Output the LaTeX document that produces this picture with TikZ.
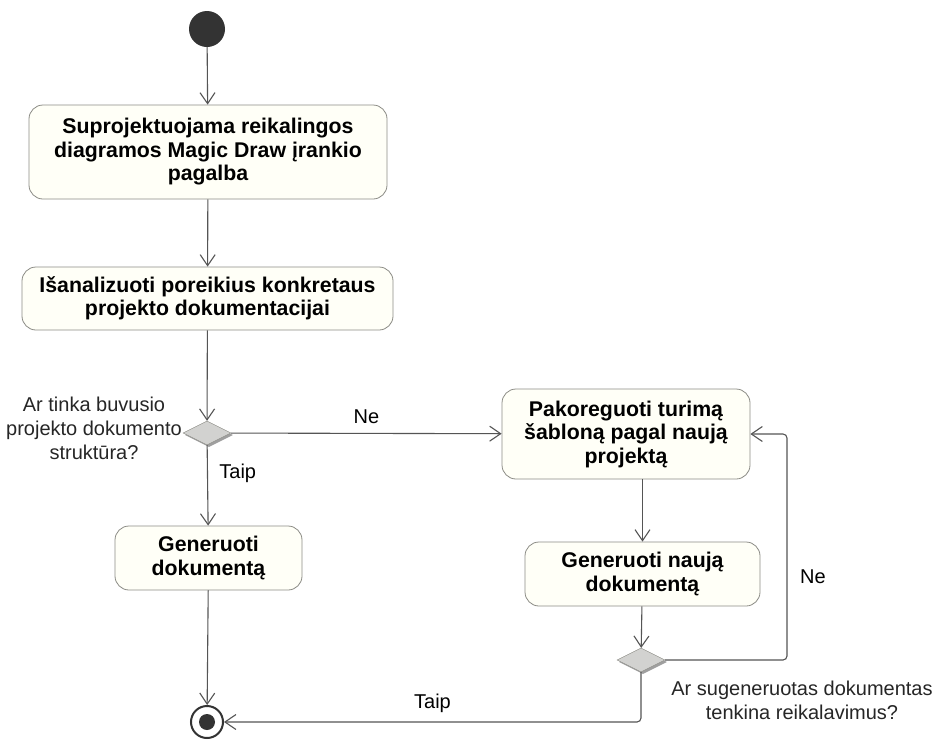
\documentclass[tikz,border=0pt]{standalone}
\usepackage{fontspec}
\setmainfont{Liberation Sans}
\usetikzlibrary{arrows.meta,shapes.geometric,shadows}
\definecolor{linegray}{HTML}{555555}
\definecolor{boxgray}{HTML}{8C8C86}
\definecolor{boxfill}{HTML}{FFFFF7}
\definecolor{decfill}{HTML}{D2D2D0}

\begin{document}
\begin{tikzpicture}[x=1pt,y=-1pt,font=\fontsize{20}{24}\selectfont,
  action/.style={draw=boxgray,fill=boxfill,thick,rounded corners=14pt,align=center,
    font=\fontsize{21.3}{23.5}\selectfont\bfseries,inner sep=0pt},
  decision/.style={diamond,draw=boxgray,fill=decfill,inner sep=0pt,shape aspect=2,
    minimum width=48pt,minimum height=24pt,
    general shadow={fill=gray!75,shadow xshift=2pt,shadow yshift=-2pt}},
  flow/.style={draw=linegray,line width=1.1pt,rounded corners=4pt,
    -{Straight Barb[length=11pt,width=15pt]}},
  note/.style={text=black!85,align=center}]
  \useasboundingbox[fill=white] (0,0) rectangle (935,742);

  % start and end
  \node[circle,fill=black!80,minimum size=36pt,inner sep=0pt] (start) at (207,29) {};
  \node[circle,draw=black!80,line width=2pt,fill=white,minimum size=32pt,inner sep=0pt] (final) at (207,722) {};
  \fill[black!80] (final) circle (8);

  % actions
  \node[action,minimum width=358pt,minimum height=94pt] (design) at (208,152)
    {Suprojektuojama reikalingos\\diagramos Magic Draw įrankio\\pagalba};
  \node[action,minimum width=371pt,minimum height=63pt] (analyse) at (207.5,298.5)
    {Išanalizuoti poreikius konkretaus\\projekto dokumentacijai};
  \node[action,minimum width=187pt,minimum height=64pt] (generate) at (208.5,558)
    {Generuoti\\dokumentą};
  \node[action,minimum width=248pt,minimum height=90pt] (adjust) at (626,434)
    {Pakoreguoti turimą\\šabloną pagal naują\\projektą};
  \node[action,minimum width=235pt,minimum height=64pt] (genNew) at (642.5,574)
    {Generuoti naują\\dokumentą};

  % decisions
  \node[decision] (fits) at (207,433) {};
  \node[decision] (meets) at (641,660) {};
  \node[note] (fitsQ) at (94,428) {Ar tinka buvusio\\projekto dokumento\\struktūra?};
  \node[note] (meetsQ) at (802,700) {Ar sugeneruotas dokumentas\\tenkina reikalavimus?};

  % flows
  \draw[flow] (start) -- (design);
  \draw[flow] (design) -- (analyse);
  \draw[flow] (analyse) -- (fits);
  \draw[flow] (fits) -- node[pos=0.35,right=8pt] (yes1) {Taip} (generate);
  \draw[flow] (fits) -- node[above=6pt] (no1) {Ne} (adjust);
  \draw[flow] (generate) -- (final);
  \draw[flow] (genNew.north |- adjust.south) -- (genNew.north);
  \draw[flow] (genNew) -- (meets);
  \coordinate (loopTurn) at (787,660);
  \draw[flow] (meets.east) -- (loopTurn) |- (adjust.east);
  \node (no2) at (813,577) {Ne};
  \draw[flow] (meets.south) |- node[pos=0.75,above=5pt] (yes2) {Taip} (final.east);
\end{tikzpicture}
\end{document}
